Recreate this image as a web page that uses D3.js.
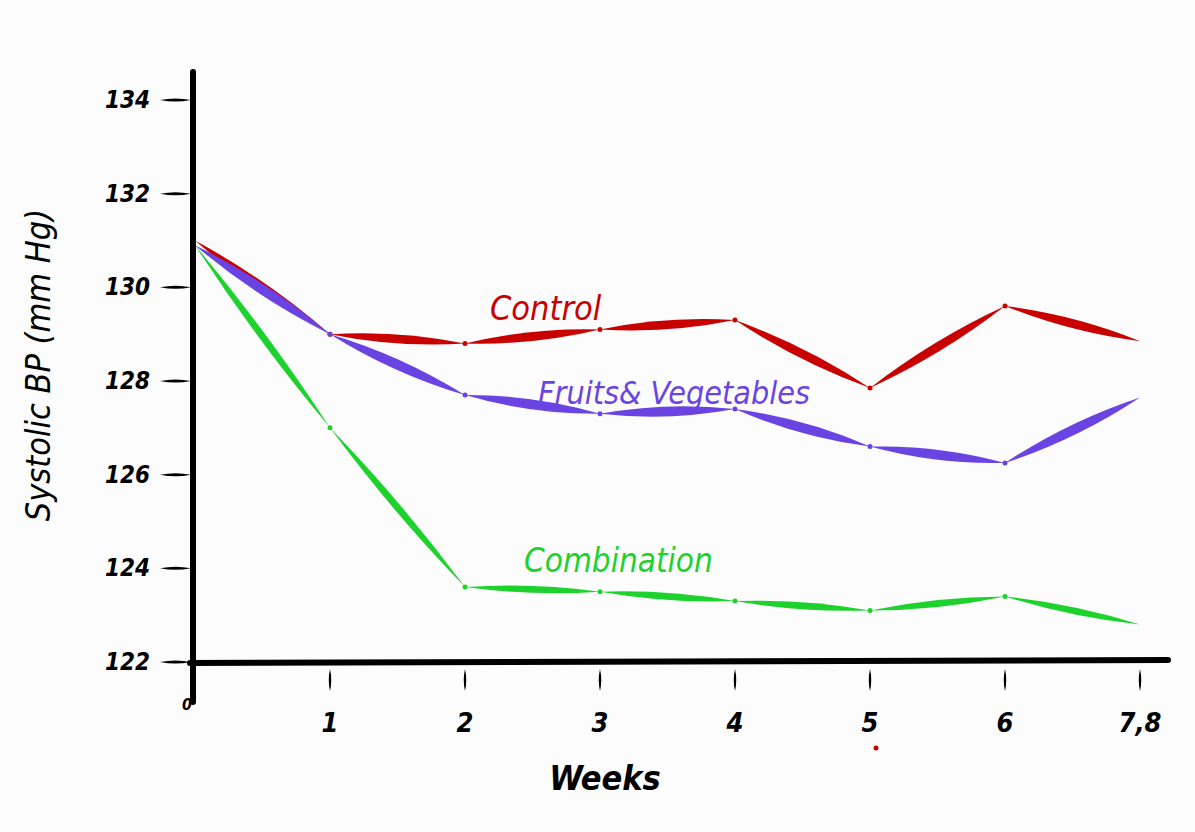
<!DOCTYPE html>
<head>
    <style>
        body { margin: 0; background: #fcfcfc; }
        text { font-family: "DejaVu Sans Condensed", "DejaVu Sans", sans-serif; }
    </style>
</head>
<body>
    <script src="https://d3js.org/d3.v7.min.js"></script>
    <script>
        const width = 1195;
        const height = 832;

        // data
        const weeks = ["0", "1", "2", "3", "4", "5", "6", "7,8"];
        const control = [131.0, 129.0, 128.8, 129.1, 129.3, 127.85, 129.6, 128.85];
        const fruitsVeg = [130.9, 129.0, 127.7, 127.3, 127.4, 126.6, 126.25, 127.65];
        const combination = [130.9, 127.0, 123.6, 123.5, 123.3, 123.1, 123.4, 122.8];
        const yTicks = [122, 124, 126, 128, 130, 132, 134];

        const series = [
            {name: "Control", values: control, color: "#c80000", w: 9, lx: 490, ly: 320, fs: 34},
            {name: "Fruits& Vegetables", values: fruitsVeg, color: "#6a44e2", w: 10, lx: 538, ly: 404, fs: 32},
            {name: "Combination", values: combination, color: "#1ed22e", w: 7, lx: 524, ly: 572, fs: 33}
        ];

        const x = d3.scalePoint().domain(weeks).range([195, 1140]);
        const y = d3.scaleLinear().domain([122, 134]).range([662, 100]);

        const svg = d3.select("body").append("svg")
            .attr("width", width).attr("height", height);

        svg.append("rect").attr("width", width).attr("height", height).attr("fill", "#fcfcfc");

        // brush-like segment: thick in the middle, thin at both ends
        function stroke(p0, p1, w) {
            const dx = p1[0] - p0[0], dy = p1[1] - p0[1];
            const len = Math.hypot(dx, dy);
            const nx = -dy / len * w, ny = dx / len * w;
            const mx = (p0[0] + p1[0]) / 2, my = (p0[1] + p1[1]) / 2;
            return `M${p0[0]},${p0[1]} Q${mx + nx},${my + ny} ${p1[0]},${p1[1]} Q${mx - nx},${my - ny} ${p0[0]},${p0[1]}Z`;
        }

        // axes
        svg.append("line")
            .attr("x1", 193).attr("x2", 193)
            .attr("y1", 72).attr("y2", y(122) + 40)
            .attr("stroke", "#000").attr("stroke-width", 6).attr("stroke-linecap", "round");
        svg.append("path")
            .attr("d", stroke([190, y(122) + 1], [1172, y(122) - 3], 4))
            .attr("fill", "#000");
        svg.append("line")
            .attr("x1", 190).attr("x2", 1168)
            .attr("y1", y(122) + 1).attr("y2", y(122) - 2)
            .attr("stroke", "#000").attr("stroke-width", 6).attr("stroke-linecap", "round");

        // y ticks + labels
        svg.selectAll(".ytick").data(yTicks).enter().append("path")
            .attr("d", d => stroke([160, y(d)], [191, y(d)], 3))
            .attr("fill", "#000");
        svg.selectAll(".ylab").data(yTicks).enter().append("text")
            .attr("x", 150).attr("y", d => y(d) + 8)
            .attr("text-anchor", "end")
            .attr("font-size", 24).attr("font-weight", "bold")
            .attr("font-style", "italic")
            .text(d => d);

        // x ticks + labels
        svg.selectAll(".xtick").data(weeks.slice(1)).enter().append("path")
            .attr("d", d => stroke([x(d), y(122) + 7], [x(d), y(122) + 29], 2.5))
            .attr("fill", "#000");
        svg.selectAll(".xlab").data(weeks).enter().append("text")
            .attr("x", d => x(d) - (d == "0" ? 8 : 0)).attr("y", d => d == "0" ? 710 : 732)
            .attr("text-anchor", "middle")
            .attr("font-size", d => d == "0" ? 16 : 27).attr("font-weight", "bold")
            .attr("font-style", "italic")
            .text(d => d);

        // axis titles
        svg.append("text")
            .attr("transform", "translate(50,365) rotate(-90)")
            .attr("text-anchor", "middle")
            .attr("font-size", 34).attr("font-style", "italic")
            .text("Systolic BP (mm Hg)");
        svg.append("text")
            .attr("x", 605).attr("y", 790)
            .attr("text-anchor", "middle")
            .attr("font-size", 34).attr("font-weight", "bold").attr("font-style", "italic")
            .text("Weeks");

        // lines
        series.forEach(s => {
            const pts = s.values.map((v, i) => [x(weeks[i]), y(v)]);
            const g = svg.append("g");
            g.selectAll("path").data(d3.pairs(pts)).enter().append("path")
                .attr("d", d => stroke(d[0], d[1], s.w))
                .attr("fill", s.color);
            g.selectAll("circle").data(pts.slice(1, -1)).enter().append("circle")
                .attr("cx", d => d[0]).attr("cy", d => d[1]).attr("r", 2.5)
                .attr("fill", s.color);
            svg.append("text")
                .attr("x", s.lx).attr("y", s.ly)
                .attr("font-size", s.fs).attr("font-style", "italic")
                .attr("fill", s.color)
                .text(s.name);
        });

        // stray dot in the sketch
        svg.append("circle").attr("cx", 876).attr("cy", 748).attr("r", 2.5).attr("fill", "#c80000");
    </script>
</body>
</html>
